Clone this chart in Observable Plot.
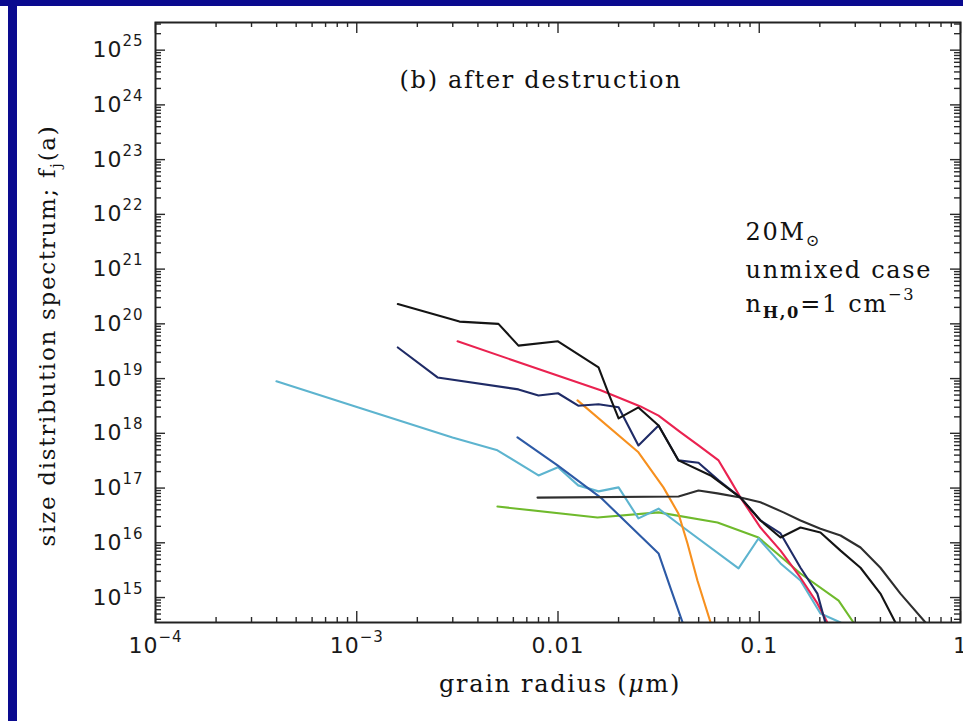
<!DOCTYPE html>
<html>
<head>
<meta charset="utf-8">
<style>
  html, body { margin: 0; padding: 0; background: #fff; overflow: hidden; }
  #wrap { position: relative; width: 963px; height: 721px; }
  .bar { position: absolute; background: #0a0a8f; }
</style>
<script src="https://cdn.jsdelivr.net/npm/d3@7"></script>
<script src="https://cdn.jsdelivr.net/npm/@observablehq/plot@0.6"></script>
</head>
<body>
<div id="wrap"></div>
<script>
// ---------- axis ticks ----------
const xTickValues = [1e-4, 1e-3, 1e-2, 1e-1, 1];
const xTickLabels = ["10^{−4}", "10^{−3}", "0.01", "0.1", "1"];
const yTickValues = [1e15, 1e16, 1e17, 1e18, 1e19, 1e20, 1e21, 1e22, 1e23, 1e24, 1e25];
const yTickLabels = ["10^{15}", "10^{16}", "10^{17}", "10^{18}", "10^{19}", "10^{20}",
                     "10^{21}", "10^{22}", "10^{23}", "10^{24}", "10^{25}"];

// ---------- texts ----------
const titleText = "(b) after destruction";
const annotLines = ["20M_{⊙}", "unmixed case", "n_!{H,0}=1 cm^{−3}"];
const xLabel = "grain radius (*{μ}m)";
const yLabel = "size distribution spectrum; f_{j}(a)";

// ---------- series: [grain radius (μm), f_j(a)] ----------
const seriesBlack = [[1.60e-3,2.3e20],[3.24e-3,1.1e20],[5.06e-3,1.0e20],[6.36e-3,4.0e19],[1.0e-2,4.8e19],
  [1.59e-2,1.6e19],[1.78e-2,5.4e18],[2.0e-2,1.87e18],[2.51e-2,2.97e18],[3.16e-2,1.39e18],[3.97e-2,3.2e17],
  [5.73e-2,1.7e17],[8.07e-2,6.7e16],[0.1014,2.56e16],[0.1276,1.25e16],[0.1603,1.9e16],[0.2014,1.54e16],
  [0.2535,7.2e15],[0.3185,3.5e15],[0.400,1.18e15],[0.475,3.5e14]];
const seriesNavy = [[1.60e-3,3.7e19],[2.52e-3,1.05e19],[6.36e-3,6.35e18],[8.0e-3,4.9e18],[1.0e-2,5.4e18],
  [1.26e-2,3.2e18],[1.59e-2,3.4e18],[2.0e-2,3.0e18],[2.51e-2,6.0e17],[3.16e-2,1.39e18],[3.97e-2,3.2e17],
  [4.99e-2,2.9e17],[6.28e-2,1.38e17],[8.07e-2,6.7e16],[0.1014,2.56e16],[0.1276,1.48e16],[0.1603,3.5e15],
  [0.1945,1.18e15],[0.213,3.5e14]];
const seriesRed = [[3.17e-3,4.8e19],[1.63e-2,6.1e18],[2.57e-2,3.1e18],[3.16e-2,2.1e18],[4.07e-2,1.04e18],
  [4.99e-2,6.0e17],[6.28e-2,3.2e17],[7.19e-2,1.38e17],[8.07e-2,6.7e16],[0.1014,1.9e16],[0.1276,7.2e15],
  [0.1603,2.3e15],[0.1945,7.8e14],[0.218,3.5e14]];
const seriesOrange = [[1.25e-2,4.0e18],[2.51e-2,4.5e17],[3.34e-2,1.03e17],[3.97e-2,3.4e16],[4.40e-2,9.7e15],
  [4.93e-2,2.05e15],[5.73e-2,3.5e14]];
const seriesBlue = [[6.29e-3,8.4e17],[9.95e-3,2.6e17],[1.63e-2,6.7e16],[3.16e-2,6.4e15],[3.62e-2,1.5e15],
  [4.16e-2,3.5e14]];
const seriesCyan = [[3.99e-4,8.9e18],[1.01e-3,3.0e18],[2.99e-3,8.4e17],[5.0e-3,4.9e17],[8.0e-3,1.7e17],
  [1.0e-2,2.4e17],[1.26e-2,1.12e17],[1.59e-2,8.7e16],[2.0e-2,1.03e17],[2.51e-2,2.8e16],[3.16e-2,4.2e16],
  [4.07e-2,2.07e16],[7.89e-2,3.4e15],[9.91e-2,1.2e16],[0.1276,4.2e15],[0.1603,2.05e15],[0.2014,5.1e14],
  [0.2535,3.5e14]];
const seriesGreen = [[5.0e-3,4.6e16],[1.57e-2,2.9e16],[3.16e-2,3.6e16],[6.2e-2,2.35e16],[9.91e-2,1.25e16],
  [0.1603,2.75e15],[0.248,8.8e14],[0.294,3.5e14]];
const seriesGray = [[7.91e-3,6.7e16],[3.97e-2,7.0e16],[4.99e-2,9.0e16],[6.2e-2,8.0e16],[8.07e-2,6.7e16],
  [0.1014,5.5e16],[0.132,3.6e16],[0.1603,2.56e16],[0.2014,1.8e16],[0.2535,1.36e16],[0.3185,8.2e15],
  [0.400,3.5e15],[0.503,1.18e15],[0.67,3.5e14]];

const seriesList = [
  {data: seriesGreen, color: "#6fba2c"},
  {data: seriesCyan, color: "#5db4cf"},
  {data: seriesBlue, color: "#2d5aa6"},
  {data: seriesOrange, color: "#f7901e"},
  {data: seriesGray, color: "#2e2e2e"},
  {data: seriesRed, color: "#ea2250"},
  {data: seriesNavy, color: "#1f2b66"},
  {data: seriesBlack, color: "#141414"}
];

// ---------- scales ----------
const xDomain = [1e-4, 1];
const yDomain = [3.5e14, 3.2e25];

function minorTicks(majors, domain) {
  const out = [];
  const lo = Math.log10(majors[0]) - 1;
  const hi = Math.log10(majors[majors.length - 1]);
  for (let e = lo; e <= hi; e++) for (let k = 2; k <= 9; k++) {
    const v = k * Math.pow(10, e);
    if (v >= domain[0] && v <= domain[1]) out.push(v);
  }
  return out;
}
const xMinor = minorTicks(xTickValues, xDomain);
const yMinor = minorTicks(yTickValues, yDomain);

const W = 963, H = 721, ML = 155, MR = 3, MT = 22, MB = 99;
const PW = W - ML - MR, PH = H - MT - MB;
const tickCol = "#2a2a2a";
const serif = "DejaVu Serif";

const chart = Plot.plot({
  width: W, height: H,
  marginLeft: ML, marginRight: MR, marginTop: MT, marginBottom: MB,
  x: {type: "log", domain: xDomain},
  y: {type: "log", domain: yDomain},
  style: {background: "white"},
  marks: [
    ...seriesList.map(s => Plot.line(s.data, {x: d => d[0], y: d => d[1], stroke: s.color,
      strokeWidth: 2.1, clip: true, strokeLinejoin: "round"})),
    // inward ticks on all four sides
    Plot.tickX(xMinor, {x: d => d, insetTop: PH - 5, stroke: tickCol, strokeWidth: 1.4}),
    Plot.tickX(xTickValues, {x: d => d, insetTop: PH - 11, stroke: tickCol, strokeWidth: 1.4}),
    Plot.tickX(xMinor, {x: d => d, insetBottom: PH - 5, stroke: tickCol, strokeWidth: 1.4}),
    Plot.tickX(xTickValues, {x: d => d, insetBottom: PH - 11, stroke: tickCol, strokeWidth: 1.4}),
    Plot.tickY(yMinor, {y: d => d, insetRight: PW - 6, stroke: tickCol, strokeWidth: 1.4}),
    Plot.tickY(yTickValues, {y: d => d, insetRight: PW - 10, stroke: tickCol, strokeWidth: 1.4}),
    Plot.tickY(yMinor, {y: d => d, insetLeft: PW - 6, stroke: tickCol, strokeWidth: 1.4}),
    Plot.tickY(yTickValues, {y: d => d, insetLeft: PW - 10, stroke: tickCol, strokeWidth: 1.4}),
    Plot.frame({stroke: "#222", strokeWidth: 2}),
    Plot.axisX(xTickValues, {anchor: "bottom", tickSize: 0, tickPadding: 15, label: null,
      tickFormat: d => xTickLabels[xTickValues.indexOf(d)]}),
    Plot.axisY(yTickValues, {anchor: "left", tickSize: 0, tickPadding: 12, label: null,
      tickFormat: d => yTickLabels[yTickValues.indexOf(d)]}),
    Plot.text([titleText], {text: d => d, frameAnchor: "top-left", dx: 244, dy: 48,
      textAnchor: "start", fontFamily: serif, fontSize: 24, fill: "#111"}),
    ...annotLines.map((t, i) => Plot.text([t], {text: d => d, frameAnchor: "top-left",
      dx: 590, dy: [200, 238, 272][i], textAnchor: "start", fontFamily: serif, fontSize: 24, fill: "#111"})),
    Plot.text([xLabel], {text: d => d, frameAnchor: "bottom", dx: 2, dy: 69, textAnchor: "middle",
      fontFamily: serif, fontSize: 24, fill: "#111"}),
    Plot.text([yLabel], {text: d => d, frameAnchor: "left", dx: -108, dy: 13, rotate: -90,
      textAnchor: "middle", fontFamily: serif, fontSize: 23, fill: "#111"})
  ]
});

const wrap = document.getElementById("wrap");
wrap.appendChild(chart);
// slide frame bars
const barTop = document.createElement("div"); barTop.className = "bar";
Object.assign(barTop.style, {left: "0px", top: "0px", width: "963px", height: "6px"});
const barLeft = document.createElement("div"); barLeft.className = "bar";
Object.assign(barLeft.style, {left: "8px", top: "0px", width: "9px", height: "721px"});
wrap.appendChild(barTop); wrap.appendChild(barLeft);

const svgSel = d3.select(chart);
svgSel.selectAll('g[aria-label="x-axis tick label"] text, g[aria-label="y-axis tick label"] text')
  .style("font-family", '"DejaVu Sans", sans-serif').style("font-size", "22px")
  .style("fill", "#1a1a1a").style("letter-spacing", "1px");
svgSel.selectAll('g[aria-label="text"] text').style("letter-spacing", "1.7px");

// rich text: ^{sup}, _{sub}, _!{bold sub}, *{italic}
const NS = "http://www.w3.org/2000/svg";
function richify(el) {
  const s = el.textContent;
  const re = /([\^_*])(!?)\{([^}]*)\}/g;
  if (!re.test(s)) return;
  re.lastIndex = 0;
  const fs = parseFloat(getComputedStyle(el).fontSize) || 20;
  const parts = []; let last = 0, m;
  while ((m = re.exec(s))) {
    if (m.index > last) parts.push({t: s.slice(last, m.index), k: "n"});
    parts.push({t: m[3], k: m[1], b: m[2] === "!"});
    last = re.lastIndex;
  }
  if (last < s.length) parts.push({t: s.slice(last), k: "n"});
  el.textContent = "";
  let shift = 0;
  parts.forEach((p) => {
    const ts = document.createElementNS(NS, "tspan");
    const target = p.k === "^" ? -0.5 * fs : p.k === "_" ? 0.28 * fs : 0;
    const d = target - shift;
    if (Math.abs(d) > 0.01) ts.setAttribute("dy", d.toFixed(2));
    shift = target;
    if (p.k === "^" || p.k === "_") ts.setAttribute("font-size", (0.68 * fs).toFixed(1) + "px");
    if (p.k === "*") ts.setAttribute("font-style", "italic");
    if (p.b) ts.setAttribute("font-weight", "bold");
    ts.textContent = p.t;
    el.appendChild(ts);
  });
}
svgSel.selectAll("text").each(function() { richify(this); });
</script>
</body>
</html>
